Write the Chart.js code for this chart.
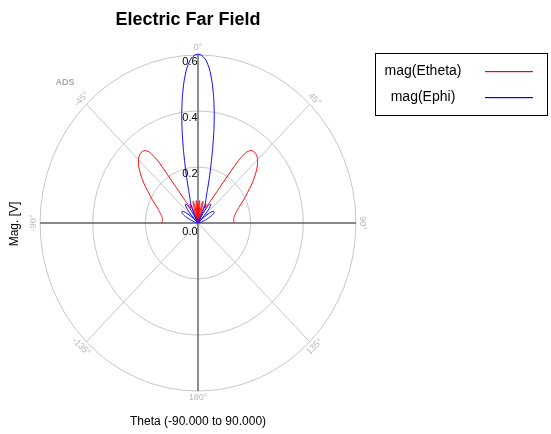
<!DOCTYPE html>
<html>
<head>
<meta charset="utf-8">
<script src="https://cdn.jsdelivr.net/npm/chart.js@4"></script>
<style>
  body { margin: 0; background: #fff; }
  #wrap { width: 551px; height: 434px; position: relative; }
</style>
</head>
<body>
<div id="wrap"><canvas id="myChart"></canvas></div>
<script>
// theta goes -90 .. 90 in 1.5 deg steps (121 samples)
const thetaStep = 1.5
const thetaDeg = []
for (let t = -90; t <= 90; t += thetaStep) thetaDeg.push(t)

const seriesNames = ['mag(Etheta)', 'mag(Ephi)']
const seriesColors = ['rgb(255,0,0)', 'rgb(0,0,255)']

const magEtheta = [
  0.138, 0.137, 0.136, 0.136, 0.136, 0.137, 0.139, 0.141, 0.144, 0.147,
  0.151, 0.155, 0.159, 0.164, 0.170, 0.177, 0.184, 0.192, 0.200, 0.208,
  0.217, 0.227, 0.238, 0.249, 0.260, 0.271, 0.282, 0.293, 0.303, 0.312,
  0.320, 0.326, 0.330, 0.332, 0.331, 0.326, 0.312, 0.270, 0.150, 0.095,
  0.075, 0.060, 0.060, 0.070, 0.075, 0.070, 0.055, 0.030, 0.010, 0.035,
  0.065, 0.080, 0.070, 0.040, 0.005, 0.030, 0.065, 0.080, 0.070, 0.040,
  0.000,
  0.040, 0.070, 0.080, 0.065, 0.030, 0.005, 0.040, 0.070, 0.080, 0.065,
  0.035, 0.010, 0.030, 0.055, 0.070, 0.075, 0.070, 0.060, 0.060, 0.075,
  0.095, 0.150, 0.270, 0.312, 0.326, 0.331, 0.332, 0.330, 0.326, 0.320,
  0.312, 0.303, 0.293, 0.282, 0.271, 0.260, 0.249, 0.238, 0.227, 0.217,
  0.208, 0.200, 0.192, 0.184, 0.177, 0.170, 0.164, 0.159, 0.155, 0.151,
  0.147, 0.144, 0.141, 0.139, 0.137, 0.136, 0.136, 0.136, 0.137, 0.138
]

const magEphi = [
  0.000, 0.000, 0.000, 0.000, 0.000, 0.000, 0.001, 0.002, 0.003, 0.006,
  0.009, 0.013, 0.018, 0.024, 0.030, 0.037, 0.044, 0.051, 0.058, 0.064,
  0.069, 0.072, 0.073, 0.073, 0.071, 0.066, 0.057, 0.045, 0.030, 0.015,
  0.005, 0.015, 0.033, 0.052, 0.068, 0.078, 0.082, 0.082, 0.078, 0.068,
  0.050, 0.025, 0.008, 0.025, 0.050, 0.070, 0.080, 0.090, 0.105, 0.130,
  0.165, 0.210, 0.265, 0.330, 0.395, 0.455, 0.508, 0.552, 0.582, 0.598,
  0.603,
  0.598, 0.582, 0.552, 0.508, 0.455, 0.395, 0.330, 0.265, 0.210, 0.165,
  0.130, 0.105, 0.090, 0.080, 0.070, 0.050, 0.025, 0.008, 0.025, 0.050,
  0.068, 0.078, 0.082, 0.082, 0.078, 0.068, 0.052, 0.033, 0.015, 0.005,
  0.015, 0.030, 0.045, 0.057, 0.066, 0.071, 0.073, 0.073, 0.072, 0.069,
  0.064, 0.058, 0.051, 0.044, 0.037, 0.030, 0.024, 0.018, 0.013, 0.009,
  0.006, 0.003, 0.002, 0.001, 0.000, 0.000, 0.000, 0.000, 0.000, 0.000
]

const radialTicks = [0.0, 0.2, 0.4, 0.6]
const angleTicks = [0, 45, 90, 135, 180, -135, -90, -45]

// the ADS plot is a little narrower than tall
const xSqueeze = 0.94

// radar spokes: full circle, clockwise from top
const spokeCount = 360 / thetaStep
const spokes = []
for (let i = 0; i < spokeCount; i++) spokes.push(i * thetaStep)

function toSpokes(values) {
  const out = new Array(spokeCount).fill(null)
  thetaDeg.forEach((t, k) => {
    let idx = Math.round(t / thetaStep)
    if (idx < 0) idx += spokeCount
    out[idx] = values[k]
  })
  return out
}

const squeeze = {
  id: 'squeeze',
  beforeDraw(chart) {
    const r = chart.scales.r
    const ctx = chart.ctx
    ctx.save()
    ctx.translate(r.xCenter, 0)
    ctx.scale(xSqueeze, 1)
    ctx.translate(-r.xCenter, 0)
  },
  afterDatasetsDraw(chart) {
    chart.ctx.restore()
  }
}

const textPlugin = {
  id: 'texts',
  afterDraw(chart) {
    const ctx = chart.ctx
    const r = chart.scales.r
    const cx = r.xCenter, cy = r.yCenter
    const ry = r.drawingArea, rx = ry * xSqueeze
    ctx.save()

    // title
    ctx.fillStyle = '#000'
    ctx.textAlign = 'center'
    ctx.textBaseline = 'middle'
    ctx.font = 'bold 18px "Liberation Sans", Arial, sans-serif'
    ctx.fillText('Electric Far Field', 188, 20)

    // axis titles
    ctx.font = '12px "Liberation Sans", Arial, sans-serif'
    ctx.fillText('Theta (-90.000 to 90.000)', cx, 422)
    ctx.save()
    ctx.translate(15, 224)
    ctx.rotate(-Math.PI / 2)
    ctx.fillText('Mag. [V]', 0, 0)
    ctx.restore()

    // ADS mark
    ctx.font = 'bold 9px "Liberation Sans", Arial, sans-serif'
    ctx.fillStyle = '#a8a8a8'
    ctx.fillText('ADS', 65, 83)

    // radial tick labels
    ctx.fillStyle = '#000'
    ctx.font = '11px "Liberation Sans", Arial, sans-serif'
    radialTicks.forEach(v => {
      const d = r.getDistanceFromCenterForValue(v)
      ctx.fillText(v.toFixed(1), cx - 8, cy - d + (v === 0 ? 9 : 7))
    })

    // angle labels
    ctx.fillStyle = '#b8b8b8'
    ctx.font = '9px "Liberation Sans", Arial, sans-serif'
    angleTicks.forEach(a => {
      const rad = a * Math.PI / 180
      const x = cx + (rx + 7) * Math.sin(rad)
      const y = cy - (ry + 7) * Math.cos(rad)
      let rot = a
      if (a > 90) rot = a - 180
      if (a < -90) rot = a + 180
      ctx.save()
      ctx.translate(x, y)
      ctx.rotate(rot * Math.PI / 180)
      ctx.fillText(a + '°', 0, 0)
      ctx.restore()
    })

    // legend
    ctx.strokeStyle = '#000'
    ctx.lineWidth = 1
    ctx.strokeRect(375.5, 53.5, 172, 62)
    ctx.font = '14px "Liberation Sans", Arial, sans-serif'
    seriesNames.forEach((name, i) => {
      const y = 71 + i * 26
      ctx.fillStyle = '#000'
      ctx.fillText(name, 423, y)
      ctx.fillStyle = seriesColors[i]
      ctx.fillRect(485, y, 48, 1.2)
    })
    ctx.restore()
  }
}

new Chart('myChart', {
  type: 'radar',
  data: {
    labels: spokes,
    datasets: [
      {
        label: seriesNames[0],
        data: toSpokes(magEtheta),
        borderColor: seriesColors[0],
        borderWidth: 1,
        pointRadius: 0,
        fill: false,
        spanGaps: false,
        tension: 0.2,
        order: 1,
      },
      {
        label: seriesNames[1],
        data: toSpokes(magEphi),
        borderColor: seriesColors[1],
        borderWidth: 1,
        pointRadius: 0,
        fill: false,
        spanGaps: false,
        tension: 0.2,
        order: 0,
      },
    ],
  },
  options: {
    responsive: true,
    maintainAspectRatio: false,
    animation: false,
    layout: { padding: { left: 30, top: 55, right: 184, bottom: 42 } },
    plugins: {
      legend: { display: false },
      title: { display: false },
      tooltip: { enabled: false },
    },
    scales: {
      r: {
        min: 0,
        max: 0.6,
        startAngle: 0,
        ticks: { stepSize: 0.2, display: false, showLabelBackdrop: false },
        pointLabels: { display: false },
        grid: { circular: true, color: '#c4c4c4', lineWidth: 1 },
        angleLines: {
          display: true,
          color: c => (spokes[c.index] % 90 === 0 ? '#606060' : '#c4c4c4'),
          lineWidth: c => (spokes[c.index] % 45 === 0 ? (spokes[c.index] % 90 === 0 ? 1.5 : 1) : 0),
        },
      },
    },
  },
  plugins: [squeeze, textPlugin],
})
</script>
</body>
</html>
